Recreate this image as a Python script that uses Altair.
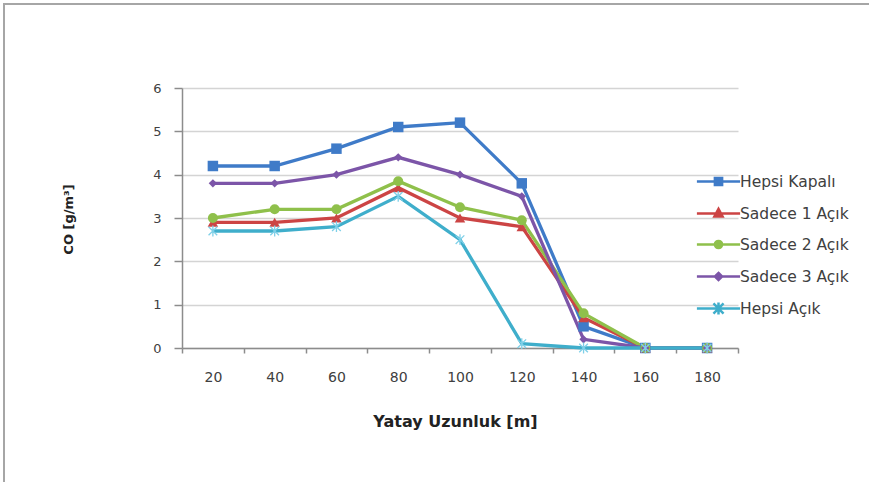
import altair as alt
import pandas as pd

x_labels = [20, 40, 60, 80, 100, 120, 140, 160, 180]
series_names = ["Hepsi Kapalı", "Sadece 1 Açık", "Sadece 2 Açık", "Sadece 3 Açık", "Hepsi Açık"]
hepsi_kapali = [4.2, 4.2, 4.6, 5.1, 5.2, 3.8, 0.5, 0, 0]
sadece_1 = [2.9, 2.9, 3.0, 3.7, 3.0, 2.8, 0.7, 0, 0]
sadece_2 = [3.0, 3.2, 3.2, 3.85, 3.25, 2.95, 0.8, 0, 0]
sadece_3 = [3.8, 3.8, 4.0, 4.4, 4.0, 3.5, 0.2, 0, 0]
hepsi_acik = [2.7, 2.7, 2.8, 3.5, 2.5, 0.1, 0, 0, 0]
y_ticks = [0, 1, 2, 3, 4, 5, 6]

colors = ["#3F7BC8", "#CC4444", "#8FC04B", "#7C55A8", "#3FAECB"]

all_series = [hepsi_kapali, sadece_1, sadece_2, sadece_3, hepsi_acik]
rows = []
for name, vals in zip(series_names, all_series):
    for xv, v in zip(x_labels, vals):
        rows.append({"x": xv, "value": v, "series": name})
df = pd.DataFrame(rows)

FONT = "DejaVu Sans"
W, H = 556, 260

X = alt.X(
    "x:O",
    scale=alt.Scale(type="band", paddingInner=0, paddingOuter=0),
    axis=alt.Axis(
        title="Yatay Uzunluk [m]",
        labelAngle=0,
        tickBand="extent",
        grid=False,
        domainColor="#8c8c8c",
        domainWidth=1.5,
        tickColor="#8c8c8c",
        tickWidth=1.5,
        tickSize=5,
        labelPadding=17,
        labelFont=FONT,
        labelFontSize=14,
        labelColor="#404040",
        titleFont=FONT,
        titleFontSize=16,
        titleFontWeight="bold",
        titleColor="#222222",
        titleX=273,
        titleY=73,
        titleBaseline="middle",
        titleAlign="center",
    ),
)
Y = alt.Y(
    "value:Q",
    scale=alt.Scale(domain=[0, 6], nice=False, zero=True),
    axis=alt.Axis(
        title="CO [g/m³]",
        values=y_ticks,
        format="d",
        grid=True,
        gridColor="#d4d4d4",
        gridWidth=1.5,
        domainColor="#8c8c8c",
        domainWidth=1.5,
        tickColor="#8c8c8c",
        tickWidth=1.5,
        tickSize=8,
        labelPadding=13,
        labelFont=FONT,
        labelFontSize=13,
        labelColor="#404040",
        titleFont=FONT,
        titleFontSize=13,
        titleFontWeight="bold",
        titleColor="#222222",
        titleX=-114,
        titleY=131,
        titleAngle=-90,
        titleBaseline="middle",
        titleAlign="center",
    ),
)
# data-driven domain (sorted by series order) so it is not merged with the legend scales
color = alt.Color("series:N", sort=series_names, scale=alt.Scale(range=colors), legend=None)

base = alt.Chart(df)
lines = base.mark_line(strokeWidth=3.3).encode(x=X, y=Y, color=color)

asterisk = "M-1,-1L1,1M-1,1L1,-1M0,-1.25L0,1.25"
marker_specs = [
    dict(shape="square", size=110, filled=True),
    dict(shape="triangle-up", size=110, filled=True),
    dict(shape="circle", size=100, filled=True),
    dict(shape="diamond", size=70, filled=True),
]
point_layers = []
for name, spec in zip(series_names[:4], marker_specs):
    point_layers.append(
        base.transform_filter(alt.datum.series == name)
        .mark_point(opacity=1, **spec)
        .encode(x=X, y=Y, color=color)
    )
point_layers.append(
    base.transform_filter(alt.datum.series == series_names[4])
    .mark_point(shape=asterisk, size=75, filled=False, strokeWidth=1.3, opacity=1, color="#7FD0E8")
    .encode(x=X, y=Y)
)

# legend symbols: line segment + marker
legend_paths = [
    "M-1.8,0H1.8M-0.3,-0.3H0.3V0.3H-0.3Z",
    "M-1.8,0H1.8M0,-0.38L0.34,0.26L-0.34,0.26Z",
    "M-1.8,0H1.8M-0.3,0A0.3,0.3 0 1,0 0.3,0A0.3,0.3 0 1,0 -0.3,0Z",
    "M-1.8,0H1.8M0,-0.3L0.3,0L0,0.3L-0.3,0Z",
    "M-1.8,0H1.8M-0.42,-0.42L0.42,0.42M-0.42,0.42L0.42,-0.42M0,-0.5L0,0.5",
]
leg = alt.Legend(
    title=None,
    orient="none",
    legendX=523,
    legendY=80,
    symbolSize=576,
    symbolStrokeWidth=2.5,
    symbolOpacity=1,
    labelFont=FONT,
    labelFontSize=15.5,
    labelColor="#404040",
    labelOffset=8,
    rowPadding=9,
    padding=0,
)
legend_layer = (
    base.mark_point(filled=True, strokeWidth=2.5, opacity=0)
    .encode(
        x=X,
        y=Y,
        fill=alt.Fill("series:N", scale=alt.Scale(domain=series_names, range=colors), legend=leg),
        stroke=alt.Stroke("series:N", scale=alt.Scale(domain=series_names, range=colors), legend=leg),
        shape=alt.Shape("series:N", scale=alt.Scale(domain=series_names, range=legend_paths), legend=leg),
    )
)

frame = alt.Chart(alt.Data(values=[{}])).mark_rect(
    fill=None, stroke="#a6a6a6", strokeWidth=2
).encode(
    x=alt.value(-178), x2=alt.value(720), y=alt.value(-84), y2=alt.value(420)
)

chart = (
    alt.layer(frame, lines, *point_layers, legend_layer)
    .properties(
        width=W,
        height=H,
        autosize=alt.AutoSizeParams(type="none"),
        padding={"left": 182, "top": 88, "right": 131, "bottom": 134},
        background="white",
    )
    .configure_view(stroke=None)
)

chart.save("out.html", embed_options={"renderer": "svg", "actions": False})
